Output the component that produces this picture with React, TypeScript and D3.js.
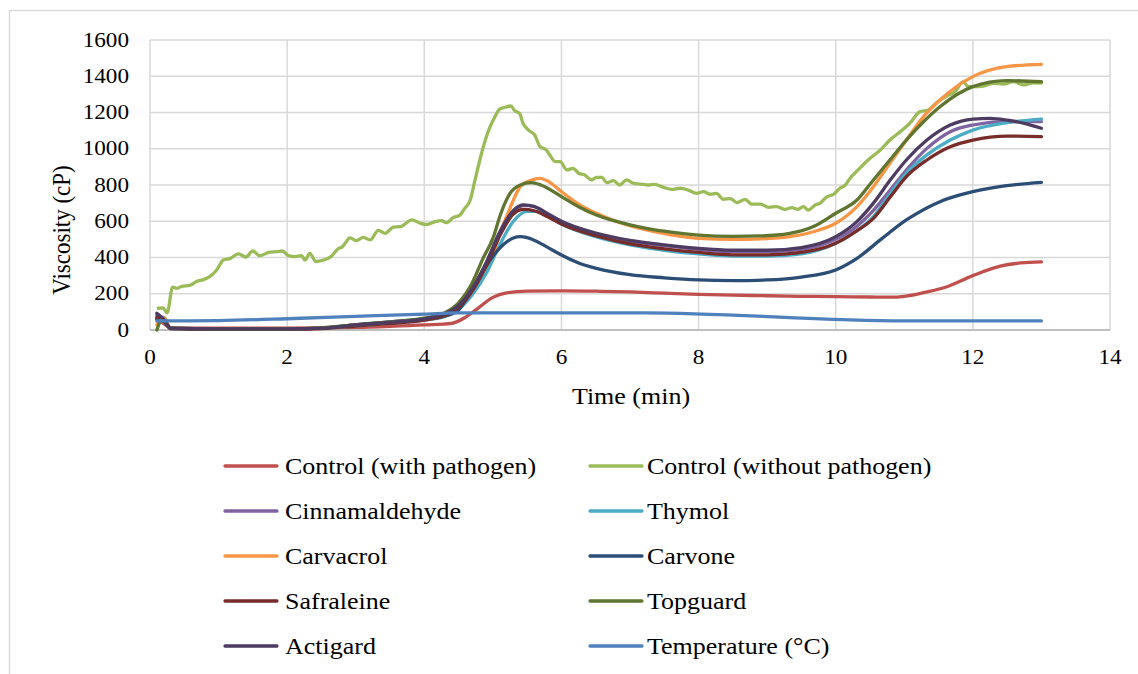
import React from "react";
import * as d3 from "d3";

// Time (min) / value pairs for each series
const controlWithPathogen: [number, number][] = [
  [0.1, 60], [0.2, 35], [0.3, 12], [0.6, 10], [1, 10], [2, 10], [3, 14], [3.5, 20], [4, 28],
  [4.4, 37], [4.6, 70], [4.8, 125], [5.0, 180], [5.2, 205], [5.5, 214], [6, 216], [6.5, 214],
  [7, 210], [7.5, 203], [8, 196], [8.5, 192], [9, 189], [9.5, 186], [10, 184], [10.5, 182],
  [10.8, 181], [11.0, 186], [11.3, 208], [11.6, 236], [12, 300], [12.4, 352], [12.7, 370], [13, 376],
];

const controlWithoutPathogen: [number, number][] = [
  [0.12, 120], [0.19, 122], [0.25, 95], [0.33, 236], [0.39, 230], [0.46, 240], [0.58, 246],
  [0.68, 268], [0.78, 278], [0.875, 296], [0.97, 330], [1.07, 386], [1.17, 395], [1.29, 420],
  [1.4, 402], [1.5, 436], [1.6, 410], [1.75, 430], [1.85, 432], [1.93, 436], [2.02, 410],
  [2.11, 405], [2.21, 410], [2.26, 386], [2.33, 423], [2.42, 378], [2.53, 386], [2.63, 402],
  [2.75, 450], [2.8, 458], [2.92, 508], [3.01, 493], [3.11, 511], [3.21, 497], [3.33, 550],
  [3.43, 533], [3.55, 568], [3.65, 570], [3.82, 608], [3.94, 589], [4.03, 582], [4.16, 598],
  [4.25, 603], [4.32, 592], [4.42, 620], [4.52, 634], [4.59, 671], [4.67, 717], [4.74, 828],
  [4.81, 938], [4.89, 1048], [4.96, 1122], [5.03, 1177], [5.1, 1219], [5.18, 1229], [5.26, 1236],
  [5.32, 1210], [5.39, 1195], [5.44, 1140], [5.52, 1103], [5.61, 1076], [5.69, 1011], [5.77, 997],
  [5.83, 966], [5.91, 929], [5.98, 929], [6.08, 883], [6.17, 892], [6.25, 865], [6.34, 855],
  [6.44, 828], [6.51, 842], [6.59, 842], [6.66, 813], [6.76, 824], [6.85, 800], [6.95, 828],
  [7.05, 809], [7.15, 805], [7.27, 800], [7.36, 804], [7.49, 787], [7.61, 776], [7.73, 782],
  [7.85, 772], [7.97, 754], [8.07, 763], [8.17, 749], [8.26, 754], [8.36, 721], [8.46, 725],
  [8.56, 703], [8.68, 721], [8.77, 695], [8.9, 695], [9.02, 677], [9.14, 681], [9.26, 666],
  [9.36, 675], [9.45, 666], [9.53, 681], [9.6, 662], [9.7, 690], [9.77, 699], [9.87, 735],
  [9.97, 749], [10.06, 782], [10.14, 800], [10.21, 837], [10.35, 892], [10.5, 947], [10.65, 993],
  [10.79, 1048], [10.94, 1094], [11.08, 1140], [11.23, 1205], [11.35, 1214], [11.47, 1254],
  [11.62, 1291], [11.74, 1315], [11.86, 1370], [11.93, 1343], [12.0, 1343], [12.15, 1346],
  [12.3, 1361], [12.44, 1357], [12.59, 1370], [12.74, 1352], [12.88, 1364], [13.0, 1362],
];

const cinnamaldehyde: [number, number][] = [
  [0.1, 80], [0.2, 50], [0.3, 10], [1, 6], [2, 6], [2.5, 10], [3, 25], [3.5, 40], [4, 60],
  [4.3, 85], [4.5, 130], [4.7, 220], [4.9, 360], [5.1, 530], [5.3, 650], [5.45, 688], [5.6, 680],
  [5.8, 640], [6, 598], [6.5, 530], [7, 490], [7.5, 465], [8, 445], [8.5, 432], [9, 432],
  [9.5, 445], [10, 500], [10.3, 570], [10.55, 660], [10.8, 775], [11.03, 883], [11.33, 1002],
  [11.67, 1094], [12, 1131], [12.5, 1150], [13, 1150],
];

const thymol: [number, number][] = [
  [0.1, 60], [0.2, 70], [0.3, 10], [1, 6], [2, 6], [2.5, 10], [3, 22], [3.5, 38], [4, 55],
  [4.3, 75], [4.5, 115], [4.7, 195], [4.9, 310], [5.1, 470], [5.3, 600], [5.5, 655], [5.65, 655],
  [5.8, 630], [6, 585], [6.5, 515], [7, 470], [7.5, 440], [8, 420], [8.5, 408], [9, 408],
  [9.5, 420], [10, 478], [10.3, 545], [10.55, 625], [10.8, 755], [11.03, 865], [11.33, 966],
  [11.67, 1048], [12, 1103], [12.5, 1144], [13, 1164],
];

const carvacrol: [number, number][] = [
  [0.1, 30], [0.2, 70], [0.3, 10], [1, 6], [2, 6], [2.5, 10], [3, 25], [3.5, 40], [4, 60],
  [4.3, 85], [4.5, 130], [4.7, 220], [4.85, 330], [5.01, 423], [5.1, 533], [5.2, 625], [5.3, 717],
  [5.4, 791], [5.55, 825], [5.69, 837], [5.8, 822], [6, 763], [6.25, 695], [6.51, 644], [7, 575],
  [7.24, 552], [7.6, 525], [8, 506], [8.5, 500], [8.9, 503], [9.33, 515], [9.7, 545], [10, 589],
  [10.31, 681], [10.55, 791], [10.79, 920], [11.03, 1048], [11.28, 1177], [11.52, 1269],
  [12, 1398], [12.49, 1453], [13, 1466],
];

const carvone: [number, number][] = [
  [0.1, 60], [0.2, 50], [0.3, 8], [1, 5], [2, 5], [2.5, 10], [3, 28], [3.5, 45], [4, 62],
  [4.33, 80], [4.5, 110], [4.62, 175], [4.81, 294], [4.96, 386], [5.15, 470], [5.3, 508],
  [5.4, 515], [5.5, 510], [5.78, 460], [6, 414], [6.25, 370], [6.51, 340], [7, 305], [7.5, 288],
  [8, 276], [8.5, 272], [9, 276], [9.5, 292], [10, 331], [10.31, 395], [10.65, 497], [11.03, 607],
  [11.52, 708], [12, 763], [12.49, 796], [13, 815],
];

const safraleine: [number, number][] = [
  [0.1, 70], [0.2, 55], [0.3, 8], [1, 5], [2, 5], [2.5, 8], [3, 22], [3.5, 36], [4, 55],
  [4.3, 80], [4.5, 125], [4.7, 215], [4.9, 350], [5.1, 520], [5.3, 640], [5.45, 665], [5.6, 658],
  [5.8, 625], [6, 585], [6.5, 520], [7, 475], [7.5, 448], [8, 428], [8.5, 415], [9, 415],
  [9.5, 428], [10, 478], [10.3, 545], [10.55, 616], [10.8, 736], [11.03, 846], [11.33, 938],
  [11.67, 1011], [12, 1048], [12.5, 1070], [13, 1067],
];

const topguard: [number, number][] = [
  [0.1, 0], [0.18, 60], [0.3, 10], [1, 6], [2, 6], [2.5, 12], [3, 30], [3.5, 45], [4, 65],
  [4.3, 95], [4.5, 150], [4.7, 260], [4.85, 390], [5.01, 515], [5.1, 625], [5.25, 754], [5.4, 800],
  [5.56, 813], [5.7, 800], [6, 736], [6.25, 680], [6.51, 634], [7, 580], [7.24, 561], [7.6, 540],
  [8, 524], [8.5, 517], [8.9, 519], [9.33, 533], [9.7, 575], [10, 644], [10.31, 717], [10.55, 828],
  [10.79, 938], [11.03, 1048], [11.28, 1149], [11.52, 1232], [12, 1343], [12.49, 1376], [13, 1370],
];

const actigard: [number, number][] = [
  [0.1, 92], [0.2, 60], [0.3, 10], [1, 6], [2, 6], [2.5, 10], [3, 28], [3.5, 42], [4, 62],
  [4.3, 88], [4.5, 135], [4.7, 230], [4.9, 370], [5.1, 540], [5.3, 660], [5.45, 690], [5.6, 682],
  [5.8, 642], [6, 600], [6.5, 535], [7, 495], [7.5, 470], [8, 450], [8.5, 440], [9, 440],
  [9.5, 455], [10, 515], [10.3, 595], [10.55, 700], [10.8, 830], [11.03, 938], [11.33, 1048],
  [11.67, 1131], [12, 1164], [12.25, 1168], [12.5, 1158], [12.75, 1140], [13, 1113],
];

const temperature: [number, number][] = [
  [0.1, 50], [1, 52], [2, 62], [3, 75], [4, 88], [4.5, 95], [7.2, 95], [11, 50], [13, 50],
];

const seriesNames = [
  "Control (with pathogen)", "Control (without pathogen)", "Cinnamaldehyde", "Thymol",
  "Carvacrol", "Carvone", "Safraleine", "Topguard", "Actigard", "Temperature (°C)",
];
const seriesColors = [
  "#C0504D", "#9BBB59", "#8064A2", "#4BACC6", "#F79646",
  "#2C4D75", "#772C2A", "#5F7530", "#4D3B62", "#4F81BD",
];
const seriesData = [
  controlWithPathogen, controlWithoutPathogen, cinnamaldehyde, thymol, carvacrol,
  carvone, safraleine, topguard, actigard, temperature,
];

const xTicks = [0, 2, 4, 6, 8, 10, 12, 14];
const yTicks = [0, 200, 400, 600, 800, 1000, 1200, 1400, 1600];

const W = 1138;
const H = 674;
const FONT = "'Liberation Serif', 'Times New Roman', serif";
const SX = 1.13; // glyphs are drawn slightly wide

const plot = { left: 150, right: 1110, top: 40, bottom: 330 };

function Label(props: {
  x: number; y: number; size: number; anchor?: string; rotate?: number; children: React.ReactNode;
}) {
  const { x, y, size, anchor = "start", rotate = 0, children } = props;
  return (
    <text
      transform={`translate(${x},${y}) scale(${SX},1) rotate(${rotate})`}
      textAnchor={anchor}
      dominantBaseline="central"
      fontFamily={FONT}
      fontSize={size}
      fill="#000"
    >
      {children}
    </text>
  );
}

export default function App() {
  const x = d3.scaleLinear().domain([0, 14]).range([plot.left, plot.right]);
  const y = d3.scaleLinear().domain([0, 1600]).range([plot.bottom, plot.top]);

  const smooth = d3
    .line<[number, number]>()
    .x((d) => x(d[0]))
    .y((d) => y(d[1]))
    .curve(d3.curveMonotoneX);

  const legendRows = [466, 511, 556, 601, 646];
  const legendCols = [
    { line: 225, text: 285 },
    { line: 590, text: 647 },
  ];

  return (
    <svg
      width={W}
      height={H}
      style={{ position: "absolute", left: 0, top: 0, background: "#fff" }}
    >
      <rect x={9.5} y={10.5} width={1200} height={800} fill="#fff" stroke="#D9D9D9" strokeWidth={1.5} />

      {/* gridlines */}
      {yTicks.map((t) => (
        <line key={"gy" + t} x1={plot.left} x2={plot.right} y1={y(t)} y2={y(t)} stroke="#D9D9D9" strokeWidth={1.5} />
      ))}
      {xTicks.map((t) => (
        <line key={"gx" + t} x1={x(t)} x2={x(t)} y1={plot.top} y2={plot.bottom} stroke="#D9D9D9" strokeWidth={1.5} />
      ))}
      <line x1={plot.left} x2={plot.right} y1={y(0)} y2={y(0)} stroke="#BFBFBF" strokeWidth={1.8} />

      {/* series */}
      {seriesData.map((d, i) => (
        <path
          key={seriesNames[i]}
          d={smooth(d) || ""}
          fill="none"
          stroke={seriesColors[i]}
          strokeWidth={3.3}
          strokeLinejoin="round"
          strokeLinecap="round"
        />
      ))}

      {/* tick labels */}
      {yTicks.map((t) => (
        <Label key={"ly" + t} x={129} y={y(t)} size={20.5} anchor="end">
          {t}
        </Label>
      ))}
      {xTicks.map((t) => (
        <Label key={"lx" + t} x={x(t)} y={357} size={20.5} anchor="middle">
          {t}
        </Label>
      ))}

      {/* axis titles */}
      <Label x={631} y={396} size={23} anchor="middle">
        Time (min)
      </Label>
      <text
        transform={`translate(61,230) scale(${SX},1) rotate(-90)`}
        textAnchor="middle"
        dominantBaseline="central"
        fontFamily={FONT}
        fontSize={23}
      >
        Viscosity (cP)
      </text>

      {/* legend */}
      {seriesNames.map((name, i) => {
        const col = legendCols[i % 2];
        const row = legendRows[Math.floor(i / 2)];
        return (
          <g key={"lg" + name}>
            <line
              x1={col.line}
              x2={col.line + 52}
              y1={row}
              y2={row}
              stroke={seriesColors[i]}
              strokeWidth={3.3}
              strokeLinecap="round"
            />
            <Label x={col.text} y={row} size={23}>
              {name}
            </Label>
          </g>
        );
      })}
    </svg>
  );
}
